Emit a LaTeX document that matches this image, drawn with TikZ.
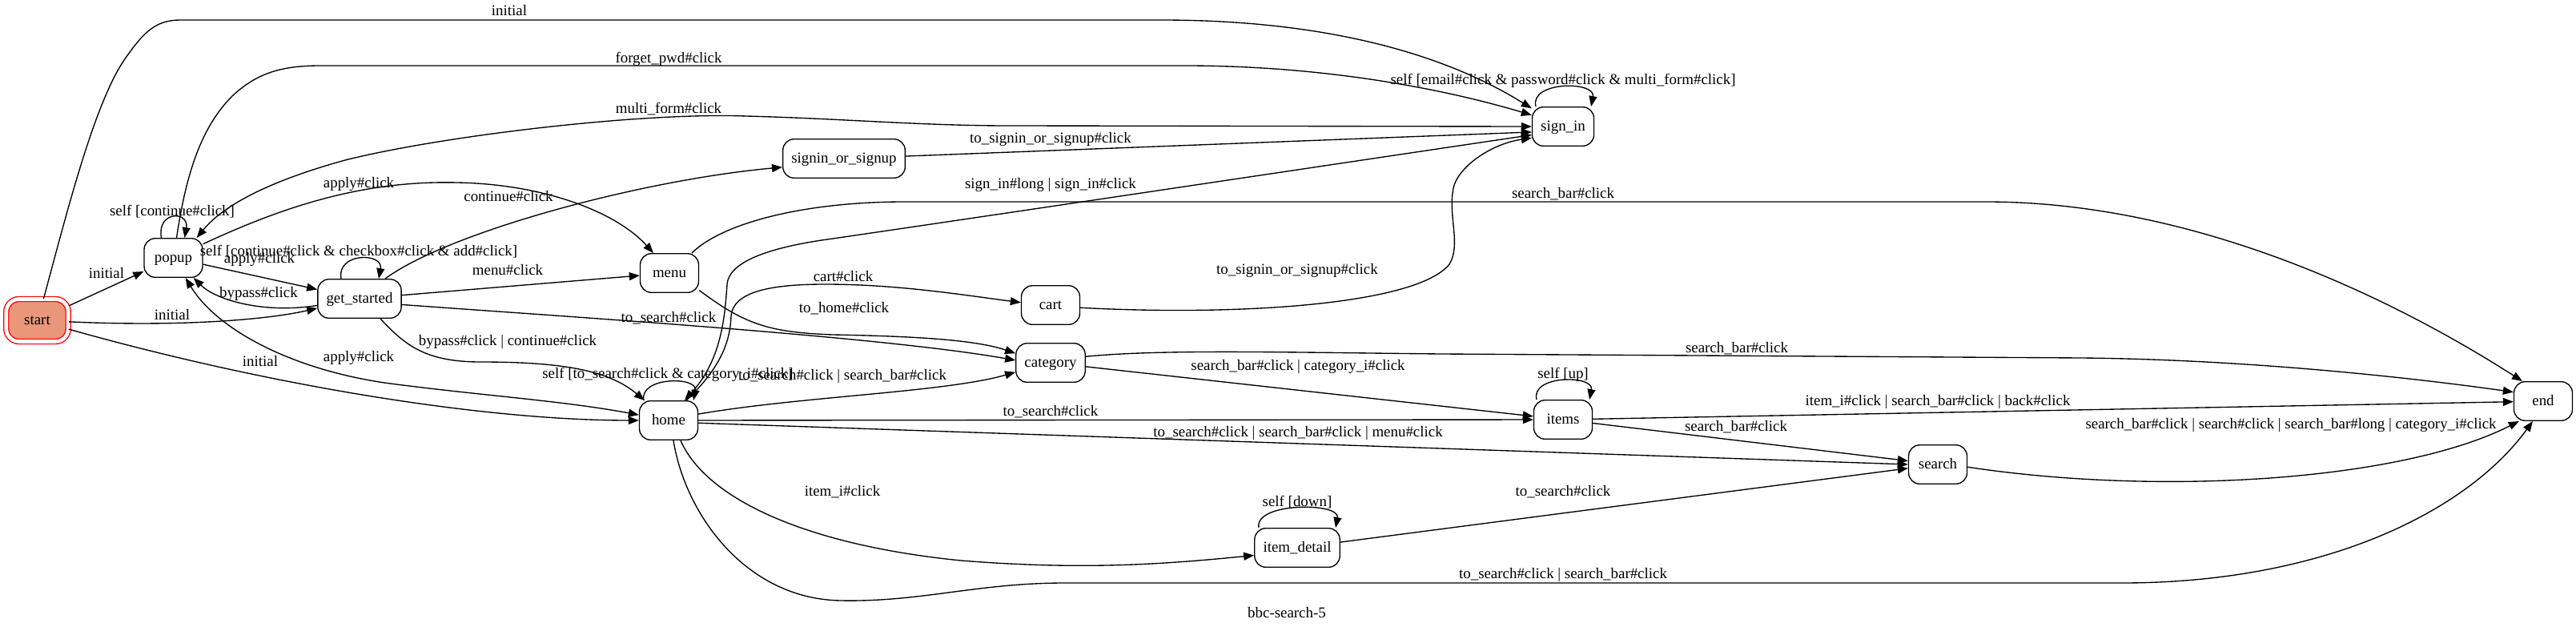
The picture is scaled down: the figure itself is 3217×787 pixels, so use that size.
\documentclass[tikz,border=0pt]{standalone}
\usepackage{fontspec}
\setmainfont{Liberation Serif}
\usetikzlibrary{arrows.meta}
\definecolor{startfill}{RGB}{233,150,122}
\newcommand{\diagfont}{\fontsize{18.9pt}{22pt}\selectfont}
\begin{document}
\begin{tikzpicture}[x=1pt,y=-1pt, line width=1.35pt,
  >={Triangle[length=13pt,width=10pt]},
  stbox/.style={draw, rounded corners=14pt, minimum width=73pt, minimum height=48.6pt,
    inner xsep=10.7pt, inner ysep=0pt, text height=12.5pt, text depth=1.5pt, font=\diagfont},
  lbl/.style={inner sep=0pt, text height=12.5pt, text depth=1.5pt, font=\diagfont}]
\useasboundingbox (0,0) rectangle (3217,787);

% ---------------- states ----------------
\node[stbox, draw=red, fill=startfill, double=white, double distance=4.6pt,
      minimum width=77.5pt, minimum height=53pt, rounded corners=16pt] (start) at (46.5,400) {start};
\node[stbox] (popup)  at (216.5,322) {popup};
\node[stbox] (gs)     at (449,373)   {get\_started};
\node[stbox] (menu)   at (836,341)   {menu};
\node[stbox] (home)   at (835,525)   {home};
\node[stbox] (sos)    at (1054,198)  {signin\_or\_signup};
\node[stbox] (cart)   at (1312,381)  {cart};
\node[stbox] (cat)    at (1312,453)  {category};
\node[stbox] (signin) at (1952,158)  {sign\_in};
\node[stbox] (items)  at (1952,524)  {items};
\node[stbox] (detail) at (1620,684)  {item\_detail};
\node[stbox] (search) at (2420,580)  {search};
\node[stbox] (endn)   at (3176,501)  {end};

% ---------------- transitions ----------------
% start -> sign_in
\draw[->] ([xshift=8pt]start.north) .. controls (85,260) and (120,120) .. (160,68)
  .. controls (180,40) and (195,25) .. (225,25) -- (1450,25)
  .. controls (1650,25) and (1800,65) .. (signin.150);
% start -> popup
\draw[->] (start) -- (popup);
% start -> get_started
\draw[->] (start) .. controls (220,408) and (330,400) .. (gs);
% start -> home
\draw[->] (start) .. controls (330,480) and (600,525) .. (home);
% popup self
\draw[->] ([xshift=-15pt]popup.north) .. controls +(-6,-34) and +(6,-34) .. ([xshift=14pt]popup.north);
% popup -> get_started
\draw[->] (popup) -- (gs);
% get_started -> popup
\draw[->] (gs) .. controls (330,392) and (270,375) .. (popup);
% get_started self
\draw[->] ([xshift=-23pt]gs.north) .. controls +(-6,-33) and +(6,-33) .. ([xshift=24pt]gs.north);
% popup <-> home
\draw[<->] (popup) .. controls (270,410) and (360,460) .. (480,478)
  .. controls (600,494) and (700,500) .. (home);
% popup -> sign_in (forget_pwd)
\draw[->] ([xshift=4pt]popup.north) .. controls (232,220) and (250,160) .. (290,120)
  .. controls (320,92) and (350,82) .. (400,82) -- (1480,82)
  .. controls (1650,82) and (1800,110) .. (signin.160);
% popup <-> sign_in (multi_form)
\draw[<->] ([xshift=-8pt]popup.north east) .. controls (280,255) and (340,225) .. (431,200)
  .. controls (550,170) and (800,140) .. (932,145)
  .. controls (1050,148) and (1150,157) .. (1260,157) -- (signin.west);
% popup -> menu
\draw[->] (popup.25) .. controls (350,260) and (450,225) .. (571,228)
  .. controls (680,230) and (770,265) .. ([xshift=-20pt]menu.north);
% get_started -> signin_or_signup
\draw[->] ([xshift=32pt]gs.north) .. controls (560,290) and (800,225) .. (sos.188);
% get_started -> menu
\draw[->] (gs) -- (menu);
% get_started -> category
\draw[->] (gs.-8) .. controls (700,395) and (1100,420) .. (cat.176);
% get_started -> home
\draw[->] ([xshift=26pt]gs.south) .. controls (505,430) and (530,452) .. (600,452)
  .. controls (700,452) and (760,462) .. ([xshift=7pt]home.north west);
% menu -> category
\draw[->] (menu.-30) .. controls (930,405) and (960,415) .. (1040,418)
  .. controls (1150,420) and (1220,425) .. (cat.165);
% menu -> end
\draw[->] ([xshift=28pt]menu.north) .. controls (900,280) and (1000,252) .. (1130,252) -- (2480,252)
  .. controls (2750,252) and (3000,380) .. ([xshift=-26pt]endn.north);
% home <-> sign_in
\draw[<->] ([xshift=20pt]home.north) .. controls (900,450) and (905,400) .. (908,355)
  .. controls (910,330) and (950,310) .. (1040,298)
  .. controls (1300,260) and (1700,200) .. (signin.195);
% home -> cart
\draw[->] ([xshift=22pt]home.north) .. controls (905,455) and (912,420) .. (913,395)
  .. controls (915,365) and (960,355) .. (1030,355)
  .. controls (1120,355) and (1200,368) .. (cart.175);
% home self
\draw[->] ([xshift=-31pt]home.north) .. controls +(-6,-30) and +(6,-30) .. ([xshift=31pt]home.north);
% home -> category
\draw[->] (home.12) .. controls (1000,495) and (1180,490) .. (cat.195);
% home -> items
\draw[->] (home) -- (items);
% home -> search
\draw[->] (home.-5) -- (search.west);
% home -> item_detail
\draw[->] ([xshift=15pt]home.south) .. controls (880,620) and (1000,680) .. (1200,700)
  .. controls (1350,712) and (1450,705) .. (detail.190);
% home -> end
\draw[->] ([xshift=6pt]home.south) .. controls (855,640) and (930,748) .. (1050,750)
  .. controls (1150,752) and (1220,728) .. (1330,728) -- (2650,728)
  .. controls (2900,728) and (3080,640) .. ([xshift=-13pt]endn.south);
% cart -> sign_in
\draw[->] (cart.-5) .. controls (1550,395) and (1770,380) .. (1810,330)
  .. controls (1825,305) and (1808,270) .. (1815,235)
  .. controls (1820,210) and (1860,180) .. (signin.200);
% signin_or_signup -> sign_in
\draw[->] (sos) -- (signin.190);
% sign_in self
\draw[->] ([xshift=-34pt]signin.north) .. controls +(-8,-32) and +(6,-32) .. ([xshift=35pt]signin.north);
% category -> end
\draw[->] (cat.10) .. controls (1450,436) and (1600,440) .. (1800,442) -- (2600,447)
  .. controls (2800,449) and (3000,470) .. (endn.163);
% category -> items
\draw[->] (cat) -- (items);
% items self
\draw[->] ([xshift=-33pt]items.north) .. controls +(-8,-31) and +(6,-31) .. ([xshift=33pt]items.north);
% items -> end
\draw[->] (items) -- (endn);
% items -> search
\draw[->] (items) -- (search);
% item_detail -> search
\draw[->] (detail) -- (search);
% item_detail self
\draw[->] ([xshift=-48pt]detail.north) .. controls +(-6,-32) and +(6,-32) .. ([xshift=48pt]detail.north);
% search -> end
\draw[->] (search.-5) .. controls (2700,620) and (3000,600) .. ([xshift=7pt]endn.south west);

% ---------------- labels ----------------
\node[lbl] (l01) at (636,14)   {initial};
\node[lbl] (l02) at (835,73)   {forget\_pwd\#click};
\node[lbl] (l03) at (835,136)  {multi\_form\#click};
\node[lbl] (l04) at (1952,100) {self [email\#click \& password\#click \& multi\_form\#click]};
\node[lbl] (l05) at (1312,173) {to\_signin\_or\_signup\#click};
\node[lbl] (l06) at (448,229)  {apply\#click};
\node[lbl] (l07) at (635,246)  {continue\#click};
\node[lbl] (l08) at (215,264)  {self [continue\#click]};
\node[lbl] (l09) at (1312,230) {sign\_in\#long | sign\_in\#click};
\node[lbl] (l10) at (1952,242) {search\_bar\#click};
\node[lbl] (l11) at (448,314)  {self [continue\#click \& checkbox\#click \& add\#click]};
\node[lbl] (l12) at (133,342)  {initial};
\node[lbl] (l13) at (324,323)  {apply\#click};
\node[lbl] (l14) at (634,338)  {menu\#click};
\node[lbl] (l15) at (1053,346) {cart\#click};
\node[lbl] (l16) at (1620,337) {to\_signin\_or\_signup\#click};
\node[lbl] (l17) at (323,366)  {bypass\#click};
\node[lbl] (l18) at (1054,385) {to\_home\#click};
\node[lbl] (l19) at (215,394)  {initial};
\node[lbl] (l20) at (835,397)  {to\_search\#click};
\node[lbl] (l21) at (634,426)  {bypass\#click | continue\#click};
\node[lbl] (l22) at (2169,435) {search\_bar\#click};
\node[lbl] (l23) at (448,446)  {apply\#click};
\node[lbl] (l24) at (325,452)  {initial};
\node[lbl] (l25) at (1621,457) {search\_bar\#click | category\_i\#click};
\node[lbl] (l26) at (1952,467) {self [up]};
\node[lbl] (l27) at (834,467)  {self [to\_search\#click \& category\_i\#click]};
\node[lbl] (l28) at (1052,469) {to\_search\#click | search\_bar\#click};
\node[lbl] (l29) at (2420,501) {item\_i\#click | search\_bar\#click | back\#click};
\node[lbl] (l30) at (1312,514) {to\_search\#click};
\node[lbl] (l31) at (2861,530) {search\_bar\#click | search\#click | search\_bar\#long | category\_i\#click};
\node[lbl] (l32) at (2168,533) {search\_bar\#click};
\node[lbl] (l33) at (1621,540) {to\_search\#click | search\_bar\#click | menu\#click};
\node[lbl] (l34) at (1052,614) {item\_i\#click};
\node[lbl] (l35) at (1952,614) {to\_search\#click};
\node[lbl] (l36) at (1620,627) {self [down]};
\node[lbl] (l37) at (1952,717) {to\_search\#click | search\_bar\#click};
\node[lbl] (l38) at (1607,766) {bbc-search-5};
\end{tikzpicture}
\end{document}
